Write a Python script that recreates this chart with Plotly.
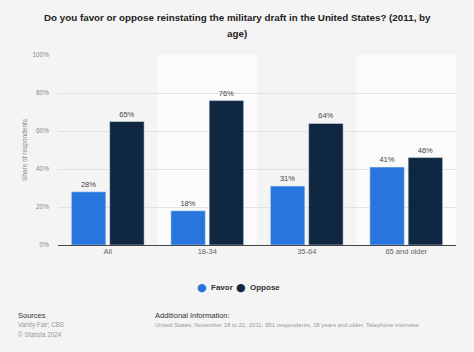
import plotly.graph_objects as go

categories = ["All", "18-34", "35-64", "65 and older"]
favor = [28, 18, 31, 41]
oppose = [65, 76, 64, 46]
tick_vals = [0, 20, 40, 60, 80, 100]
tick_text = ["0%", "20%", "40%", "60%", "80%", "100%"]
series_names = ["Favor", "Oppose"]

FAVOR_C = "#2876dd"
OPPOSE_C = "#0f2741"
BG = "#f4f4f4"
FONT = "Liberation Sans, Arial, sans-serif"

W, H = 474, 352
ML, MR, MT, MB = 58, 18, 55, 107


def px(x):
    return (x - ML) / (W - ML - MR)


def py(y):
    return (H - MB - y) / (H - MT - MB)


fig = go.Figure()
for name, vals, col in [(series_names[0], favor, FAVOR_C), (series_names[1], oppose, OPPOSE_C)]:
    fig.add_trace(go.Bar(x=categories, y=vals, name=name, marker_color=col,
                         text=[f"{v}%" for v in vals], textposition="outside",
                         textfont=dict(size=7.5, color="#444", family=FONT), cliponaxis=False,
                         showlegend=False))

shapes = []
for i in range(len(categories)):
    if i % 2 == 1:
        shapes.append(dict(type="rect", xref="x", yref="y", x0=i - 0.5, x1=i + 0.5,
                           y0=0, y1=100, fillcolor="#fbfbfb", line=dict(width=0),
                           layer="below"))

fig.update_layout(
    width=W, height=H,
    paper_bgcolor=BG, plot_bgcolor=BG,
    margin=dict(l=ML, r=MR, t=MT, b=MB),
    font=dict(family=FONT, color="#666"),
    barmode="group", bargap=0.23, bargroupgap=0.1,
    shapes=shapes,
    showlegend=False,
)
fig.update_xaxes(showgrid=False, tickfont=dict(size=7.5, color="#666"), ticks="",
                 showline=False, range=[-0.5, 3.5])
fig.update_yaxes(range=[0, 100], tickvals=tick_vals, ticktext=tick_text,
                 tickfont=dict(size=6.5, color="#888"), gridcolor="#e2e2e2", gridwidth=1,
                 zeroline=True, zerolinecolor="#444", zerolinewidth=1,
                 title=dict(text="Share of respondents", font=dict(size=6.5, color="#888"), standoff=4),
                 ticklabelstandoff=8)

# title (two lines)
title_lines = ["Do you favor or oppose reinstating the military draft in the United States? (2011, by", "age)"]
for i, t in enumerate(title_lines):
    fig.add_annotation(text=f"<b>{t}</b>", xref="paper", yref="paper", x=px(237), y=py(17 + 16 * i),
                       xanchor="center", yanchor="middle", showarrow=False,
                       font=dict(size=9.8, color="#222", family=FONT))

# legend built from series names and colours
legend_items = [(series_names[0], FAVOR_C, 202), (series_names[1], OPPOSE_C, 241)]
for name, col, x in legend_items:
    fig.add_annotation(text="●", xref="paper", yref="paper", x=px(x), y=py(287),
                       xanchor="center", yanchor="middle", showarrow=False,
                       font=dict(size=11, color=col, family="DejaVu Sans"))
    fig.add_annotation(text=f"<b>{name}</b>", xref="paper", yref="paper", x=px(x + 7), y=py(287),
                       xanchor="left", yanchor="middle", showarrow=False,
                       font=dict(size=8, color="#333", family=FONT))

ann = [
    dict(text="Sources", x=16, y=315, size=7.5, color="#333"),
    dict(text="Vanity Fair; CBS", x=16, y=325, size=6.3, color="#999"),
    dict(text="© Statista 2024", x=16, y=334, size=6.3, color="#999"),
    dict(text="Additional Information:", x=153, y=315, size=7.5, color="#333"),
    dict(text="United States; November 18 to 21, 2011; 951 respondents; 18 years and older; Telephone interview",
         x=153, y=325, size=6.0, color="#999"),
]
for a in ann:
    fig.add_annotation(text=a["text"], xref="paper", yref="paper",
                       x=px(a["x"]), y=py(a["y"]),
                       xanchor="left", yanchor="middle", showarrow=False,
                       font=dict(size=a["size"], color=a["color"], family=FONT))

fig.write_html("out.html")
